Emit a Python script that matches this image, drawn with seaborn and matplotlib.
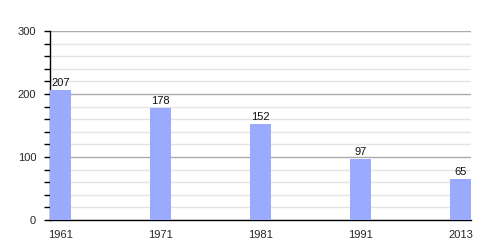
import matplotlib
matplotlib.use("Agg")
import matplotlib.pyplot as plt
import seaborn as sns
import pandas as pd
from matplotlib.ticker import MultipleLocator

years = ["1961", "1971", "1981", "1991", "2013"]
values = [207, 178, 152, 97, 65]

sns.set_theme(style="white")
plt.rcParams['font.family'] = ['Liberation Sans', 'DejaVu Sans']

df = pd.DataFrame({"year": years, "value": values})

fig = plt.figure(figsize=(5, 2.5), dpi=100)
ax = fig.add_axes([0.1, 0.12, 0.842, 0.756])

w = 0.21
sns.barplot(data=df, x="year", y="value", color="#99aaff", saturation=1,
            width=w, ax=ax, zorder=3, linewidth=0, edgecolor="none")

for i, v in enumerate(values):
    ax.text(i, v + 3, str(v), ha="center", va="bottom", fontsize=8, color="#111111")

ax.set_xlim(-w / 2, len(years) - 1 + w / 2)
ax.set_ylim(0, 300)
ax.yaxis.set_major_locator(MultipleLocator(100))
ax.yaxis.set_minor_locator(MultipleLocator(20))
ax.grid(axis="y", which="major", color="#aaaaaa", linewidth=1, zorder=0)
ax.grid(axis="y", which="minor", color="#e4e4e4", linewidth=1, zorder=0)
ax.set_axisbelow(True)

for s in ["top", "right"]:
    ax.spines[s].set_visible(False)
for s in ["left", "bottom"]:
    ax.spines[s].set_color("black")
    ax.spines[s].set_linewidth(1)

ax.tick_params(axis="y", which="both", left=True, direction="out", length=4,
               width=1, color="black", labelsize=8, pad=6)
ax.tick_params(axis="x", bottom=False, labelsize=8, pad=1)
ax.set_xlabel("")
ax.set_ylabel("")

fig.savefig("out.png", dpi=100)
